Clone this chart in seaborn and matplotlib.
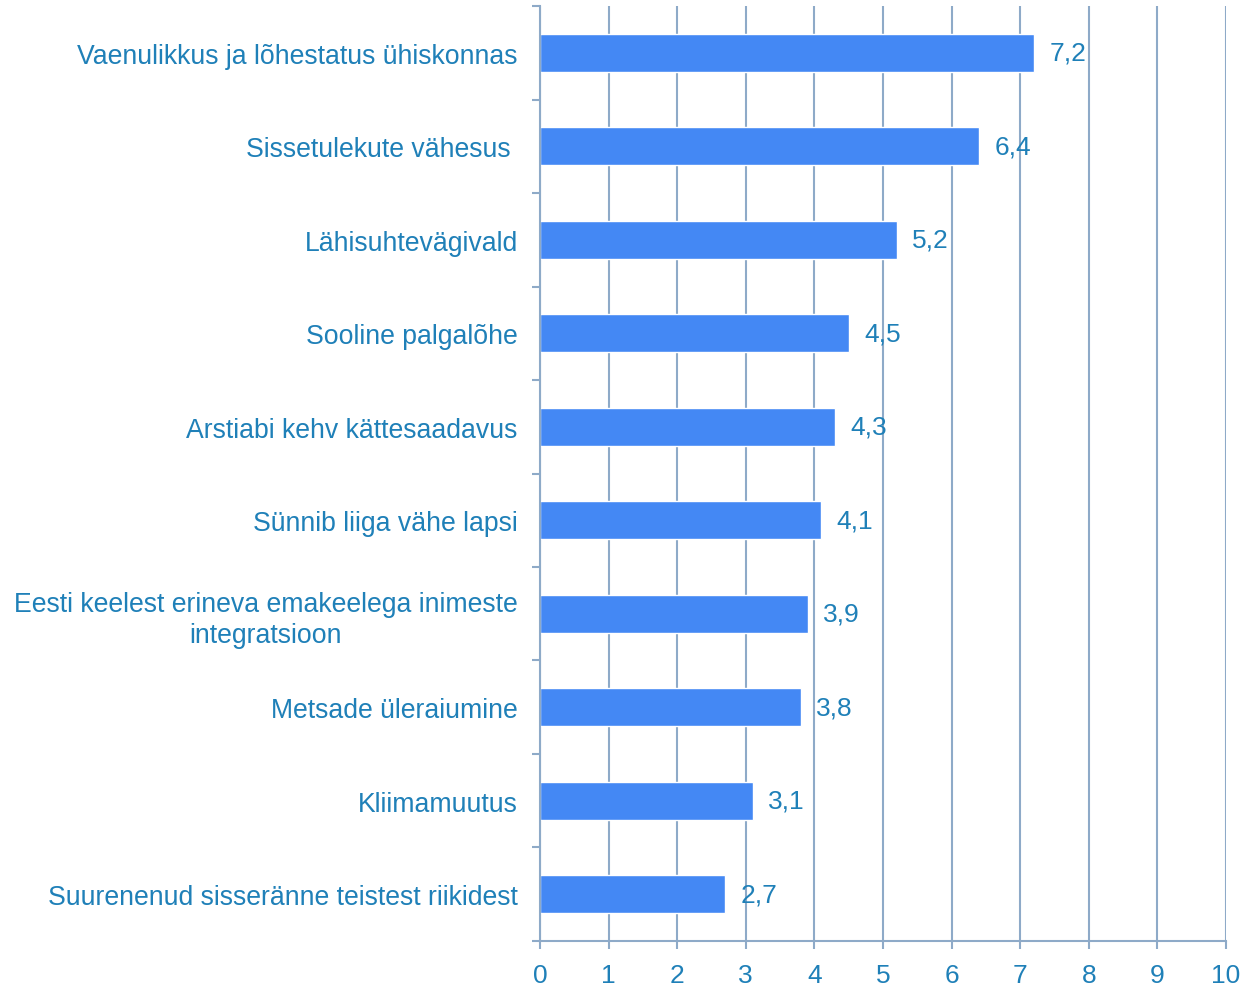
import matplotlib
matplotlib.use('Agg')
import matplotlib.pyplot as plt
import seaborn as sns
import pandas as pd
from matplotlib.ticker import FixedLocator, NullFormatter

# andmed
categories = [
    'Vaenulikkus ja lõhestatus ühiskonnas',
    'Sissetulekute vähesus ',
    'Lähisuhtevägivald',
    'Sooline palgalõhe',
    'Arstiabi kehv kättesaadavus',
    'Sünnib liiga vähe lapsi',
    'Eesti keelest erineva emakeelega inimeste\nintegratsioon',
    'Metsade üleraiumine',
    'Kliimamuutus',
    'Suurenenud sisseränne teistest riikidest',
]
values = [7.2, 6.4, 5.2, 4.5, 4.3, 4.1, 3.9, 3.8, 3.1, 2.7]
value_labels = ['7,2', '6,4', '5,2', '4,5', '4,3', '4,1', '3,9', '3,8', '3,1', '2,7']
x_ticks = list(range(0, 11))

df = pd.DataFrame({'cat': categories, 'val': values})

sns.set_style('white')
plt.rcParams['font.family'] = ['Liberation Sans', 'DejaVu Sans']

text_col = '#1F80B8'
grid_col = '#8EAAC8'
bar_col = '#4488F4'

fig = plt.figure(figsize=(12.49, 9.87), dpi=100)
ax = fig.add_axes([0.4323, 0.0456, 0.9816 - 0.4323, 0.9929 - 0.0456])

sns.barplot(data=df, x='val', y='cat', orient='h', color=bar_col,
            saturation=1, width=0.41, ax=ax)

ax.set_xlim(0, 10)
ax.set_ylim(len(categories) - 0.5, -0.5)
ax.set_xticks(x_ticks)
ax.set_xticklabels([str(t) for t in x_ticks])

ax.xaxis.grid(True, color=grid_col, linewidth=1.5)
ax.set_axisbelow(True)

for s in ['top', 'right']:
    ax.spines[s].set_visible(False)
for s in ['left', 'bottom']:
    ax.spines[s].set_color(grid_col)
    ax.spines[s].set_linewidth(1.5)

ax.tick_params(axis='x', colors=grid_col, labelcolor=text_col, labelsize=19,
               length=6, width=1.5, direction='out', pad=10, bottom=True)
ax.tick_params(axis='y', which='major', length=0, labelcolor=text_col,
               labelsize=19.2, pad=16)
ax.yaxis.set_minor_locator(FixedLocator([i - 0.5 for i in range(len(categories) + 1)]))
ax.yaxis.set_minor_formatter(NullFormatter())
ax.tick_params(axis='y', which='minor', left=True, length=6, width=1.5,
               colors=grid_col, direction='out')
for lab in ax.get_yticklabels():
    lab.set_horizontalalignment('right')
    lab.set_multialignment('center')
    lab.set_linespacing(1.25)

ax.set_xlabel('')
ax.set_ylabel('')

ax.bar_label(ax.containers[0], labels=value_labels, padding=11,
             color=text_col, fontsize=19)

fig.savefig('out.png', dpi=100)
